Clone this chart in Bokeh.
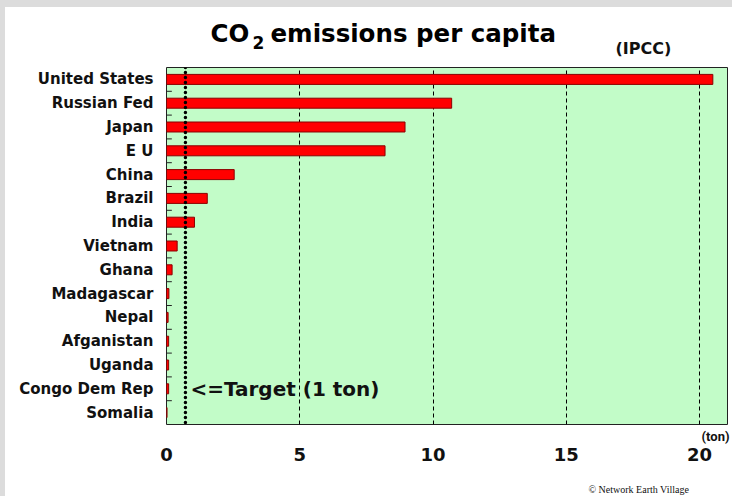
from bokeh.plotting import figure
from bokeh.layouts import column
from bokeh.models import (FactorRange, Range1d, Label, FixedTicker, ColumnDataSource, Span,
                          LinearAxis)
from bokeh.core.properties import value
from bokeh.embed import file_html
from bokeh.resources import INLINE

countries = ["United States", "Russian Fed", "Japan", "E U", "China", "Brazil", "India",
             "Vietnam", "Ghana", "Madagascar", "Nepal", "Afganistan", "Uganda",
             "Congo Dem Rep", "Somalia"]
emissions = [20.5, 10.7, 8.95, 8.2, 2.54, 1.53, 1.05, 0.4, 0.21, 0.09, 0.06, 0.08, 0.08, 0.08, 0.02]
target = 0.71
x_ticks = [0, 5, 10, 15, 20]
x_max = 21.05
unit_label = "(ton)"
unit_pos = 20.6

W = 727
LEFT, RIGHT = 161, 5
FRAME_W = W - LEFT - RIGHT
TOP_H, MAIN_H, BOT_H = 60, 405, 24


def blank(height):
    f = figure(width=W, height=height, output_backend="svg", toolbar_location=None,
               x_range=Range1d(0, FRAME_W), y_range=Range1d(0, height),
               x_axis_location=None, y_axis_location=None, min_border=0,
               min_border_left=LEFT, min_border_right=RIGHT)
    f.outline_line_color = None
    f.grid.grid_line_color = None
    f.background_fill_color = "white"
    f.border_fill_color = "white"
    return f


TITLE_FONT = dict(text_font="DejaVu Sans", text_font_style="bold", text_color="black",
                  text_baseline="middle", text_align="left")

# ---------- header (title) ----------
top = blank(TOP_H)
top.add_layout(Label(x=44, y=34.5, text="CO", text_font_size="24.5px", **TITLE_FONT))
top.add_layout(Label(x=86, y=25, text="2", text_font_size="17px", **TITLE_FONT))
top.add_layout(Label(x=104, y=34.5, text="emissions per capita", text_font_size="24.5px",
                     **TITLE_FONT))
top.add_layout(Label(x=449, y=19.5, text="(IPCC)", text_align="left", text_baseline="middle",
                     text_font="DejaVu Sans", text_font_style="bold",
                     text_font_size="16px", text_color="#111111"))

# ---------- main chart ----------
p = figure(width=W, height=MAIN_H, output_backend="svg", toolbar_location=None,
           y_range=FactorRange(factors=list(reversed(countries)), range_padding=0),
           x_range=Range1d(0, x_max),
           min_border_left=LEFT, min_border_right=RIGHT, min_border_top=0, min_border_bottom=48)
p.background_fill_color = "#c2fcc8"
p.border_fill_color = "white"
p.outline_line_color = "#222222"
p.outline_line_width = 1

src = ColumnDataSource(dict(country=countries, value=emissions))
p.hbar(y="country", right="value", left=0, height=0.42, source=src,
       fill_color="#ff0000", line_color="#8a0000", line_width=1)

p.ygrid.grid_line_color = None
p.xgrid.ticker = FixedTicker(ticks=[t for t in x_ticks if t > 0])
p.xgrid.grid_line_color = "black"
p.xgrid.grid_line_dash = "4 3"
p.xgrid.grid_line_width = 1

ya = p.yaxis[0]
ya.axis_line_color = None
ya.major_tick_line_color = None
ya.major_tick_out = 0
ya.major_tick_in = 0
ya.major_label_text_font = "DejaVu Sans"
ya.major_label_text_font_style = "bold"
ya.major_label_text_font_size = "15px"
ya.major_label_text_color = "#111111"
ya.major_label_standoff = 13

p.segment(x0=0, x1=0.2, y0=[(c, -0.5) for c in countries[:-1]],
          y1=[(c, -0.5) for c in countries[:-1]], line_color="#222222", line_width=1)

xa = p.xaxis[0]
xa.ticker = FixedTicker(ticks=x_ticks)
xa.axis_line_color = None
xa.major_tick_line_color = None
xa.minor_tick_line_color = None
xa.major_tick_out = 0
xa.major_tick_in = 0
xa.major_label_text_font = "DejaVu Sans"
xa.major_label_text_font_style = "bold"
xa.major_label_text_font_size = "18px"
xa.major_label_text_color = "#111111"
xa.major_label_standoff = 1

ton_axis = LinearAxis(ticker=FixedTicker(ticks=[unit_pos]),
                      major_label_overrides={unit_pos: unit_label})
ton_axis.axis_line_color = None
ton_axis.major_tick_line_color = None
ton_axis.minor_tick_line_color = None
ton_axis.major_tick_out = 0
ton_axis.major_tick_in = 0
ton_axis.major_label_text_font = "Roboto"
ton_axis.major_label_text_font_style = "bold"
ton_axis.major_label_text_font_size = "13px"
ton_axis.major_label_text_color = "#111111"
ton_axis.major_label_standoff = 4
p.below = [ton_axis, xa]

p.add_layout(Span(location=target, dimension="height", line_color="black",
                  line_width=3.5, line_dash="0 5", line_cap="round"))
p.text(x=[target], y=["Congo Dem Rep"], text=["<=Target (1 ton)"], x_offset=5,
       text_baseline="middle", text_font=value("DejaVu Sans"), text_font_style="bold",
       text_font_size="20px", text_color="#111111")

# ---------- footer ----------
bot = blank(BOT_H)
bot.add_layout(Label(x=422, y=7, text="\u00a9 Network Earth Village",
                     text_align="left", text_baseline="middle", text_font="Liberation Serif",
                     text_font_size="10px", text_color="#111111"))

layout = column(top, p, bot, spacing=0,
                styles={"border-top": "7px solid #dcdcdc", "border-left": "5px solid #dcdcdc"})
open("out.html", "w").write(file_html(layout, INLINE))
